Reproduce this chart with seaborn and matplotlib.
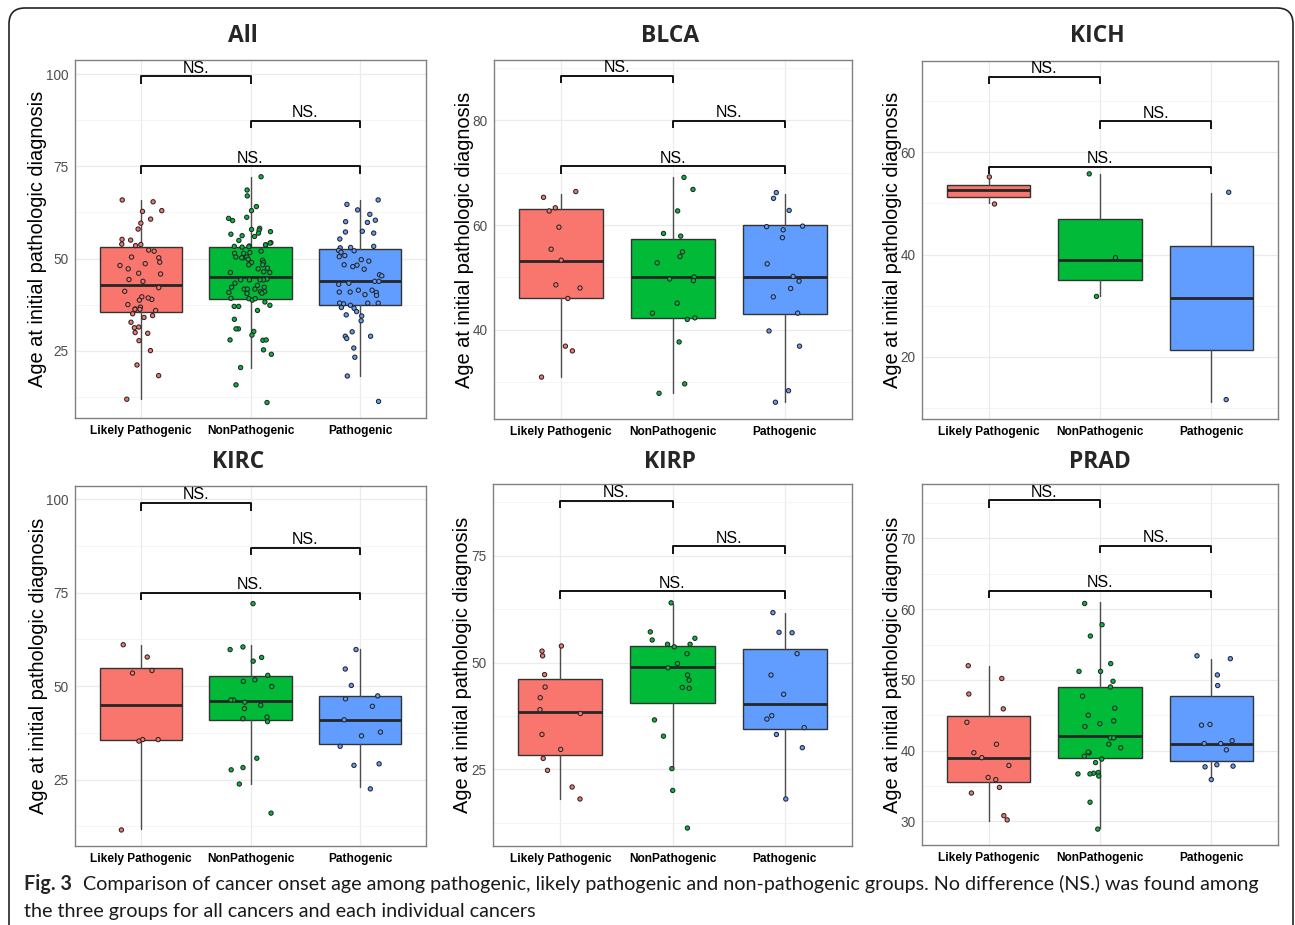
import numpy as np
import pandas as pd
import matplotlib
matplotlib.use("Agg")
import matplotlib.pyplot as plt
from matplotlib.patches import FancyBboxPatch
from matplotlib.transforms import IdentityTransform
from matplotlib.ticker import FixedLocator
import seaborn as sns

sns.set_style("white")
plt.rcParams['font.family'] = ['Liberation Sans', 'DejaVu Sans']

groups = ["Likely Pathogenic", "NonPathogenic", "Pathogenic"]
colors = ["#F8766D", "#00BA38", "#619CFF"]

# box stats per group: [lower whisker, q1, median, q3, upper whisker]
# points: jittered ages shown on top of boxes
all_box = [[11.9, 35.6, 42.9, 53.0, 65.9], [20.4, 39.0, 44.9, 53.0, 72.0], [18.0, 37.4, 44.0, 52.5, 65.9]]
all_lp = [65.9, 65.4, 58.0, 60.7, 63.0, 62.8, 59.6, 55.2, 55.0, 53.8, 52.3, 52.0, 53.5, 53.9, 50.4, 50.2,
          47.2, 46.0, 49.0, 48.1, 48.6, 45.8, 44.3, 43.8, 42.1, 41.1, 39.6, 38.9, 39.3, 38.7, 37.5, 36.8,
          36.3, 36.2, 36.2, 35.9, 34.5, 35.0, 34.0, 32.7, 31.4, 31.2, 29.7, 29.9, 27.7, 25.0, 21.1, 18.2, 11.8]
all_np = [72.2, 68.6, 67.0, 64.1, 63.0, 61.2, 60.9, 60.3, 58.2, 57.9, 57.7, 57.3, 56.9, 56.6, 56.2, 56.0,
          54.9, 54.3, 54.2, 53.7, 53.4, 53.7, 53.3, 53.1, 53.2, 52.0, 51.6, 51.4, 51.4, 50.2, 50.2, 50.4,
          50.4, 49.8, 49.5, 48.9, 48.9, 48.3, 48.3, 47.4, 47.2, 46.4, 46.2, 46.2, 44.4, 44.2, 44.2, 44.2,
          44.2, 43.3, 42.7, 42.2, 41.7, 42.2, 41.7, 41.7, 41.0, 41.0, 40.6, 40.8, 40.5, 39.1, 39.2, 38.7,
          39.1, 38.2, 37.3, 37.0, 37.0, 35.9, 33.5, 30.9, 30.2, 30.9, 27.8, 27.9, 27.9, 29.2, 25.2, 24.0,
          20.4, 15.7, 10.9]
all_p = [65.9, 64.7, 63.2, 62.0, 60.4, 60.0, 59.8, 56.9, 57.4, 57.2, 55.3, 53.0, 53.3, 52.9, 52.2, 52.1,
         51.7, 50.8, 50.5, 49.7, 49.3, 48.2, 48.3, 47.8, 47.1, 45.6, 45.3, 43.3, 43.0, 43.8, 43.8, 41.4,
         41.4, 40.8, 40.2, 40.0, 40.9, 40.9, 37.3, 37.7, 37.9, 37.9, 37.9, 36.7, 36.5, 35.6, 34.7, 33.1,
         34.4, 30.1, 28.9, 28.9, 28.3, 25.7, 23.2, 18.1, 11.2]

blca_box = [[31.1, 46.0, 53.1, 63.0, 65.9], [28.0, 42.3, 50.0, 57.3, 69.1], [26.2, 43.0, 50.0, 60.0, 65.9]]
blca_lp = [66.4, 65.3, 63.3, 62.7, 59.6, 55.4, 53.3, 48.0, 48.6, 46.0, 36.9, 36.0, 31.0]
blca_np = [69.1, 66.8, 62.7, 58.4, 57.9, 54.9, 54.0, 52.8, 50.1, 49.4, 49.7, 45.1, 43.2, 42.3, 42.0,
           37.7, 29.7, 27.9]
blca_p = [66.2, 65.1, 62.8, 59.7, 59.8, 59.1, 57.6, 52.6, 50.2, 49.3, 47.9, 46.3, 43.2, 39.8, 36.9,
          28.4, 26.2]

kich_box = [[50.0, 51.3, 52.6, 53.7, 54.9], [31.8, 35.0, 39.0, 47.0, 55.8], [11.1, 21.3, 31.5, 41.7, 52.0]]
kich_lp = [55.2, 49.9]
kich_np = [55.8, 39.4, 31.8]
kich_p = [52.2, 11.6]

kirc_box = [[11.7, 35.7, 44.9, 54.9, 61.0], [23.9, 40.9, 46.0, 52.7, 61.0], [22.9, 34.6, 40.9, 47.5, 59.9]]
kirc_lp = [61.1, 57.8, 53.5, 54.2, 35.7, 35.3, 35.7, 11.5]
kirc_np = [72.1, 60.5, 59.8, 57.7, 56.7, 52.9, 51.7, 51.3, 49.9, 46.3, 46.3, 44.9, 45.7, 44.0, 41.7,
           41.3, 40.5, 30.7, 28.2, 27.6, 23.8, 16.0]
kirc_p = [59.8, 54.6, 50.2, 47.4, 46.6, 44.6, 41.0, 37.7, 36.7, 33.9, 29.2, 28.8, 22.5]

kirp_box = [[18.0, 28.4, 38.4, 46.1, 53.9], [25.0, 40.5, 48.9, 53.9, 63.8], [18.0, 34.5, 40.4, 53.1, 61.7]]
kirp_lp = [53.9, 52.7, 51.6, 47.2, 44.3, 41.8, 39.0, 38.1, 33.2, 29.7, 27.6, 24.8, 20.9, 18.1]
kirp_np = [64.0, 57.2, 55.7, 55.3, 54.3, 53.7, 54.3, 52.1, 49.8, 48.8, 47.1, 45.9, 44.0, 44.2, 36.6,
           32.8, 25.2, 20.1, 11.3]
kirp_p = [61.7, 57.0, 57.1, 52.1, 47.1, 42.6, 36.8, 37.6, 34.8, 33.2, 30.1, 18.1]

prad_box = [[30.1, 35.5, 39.0, 44.9, 52.0], [29.0, 39.0, 42.0, 49.0, 61.0], [36.1, 38.5, 41.0, 47.7, 53.0]]
prad_lp = [52.0, 50.2, 48.0, 45.9, 44.0, 40.9, 39.7, 39.0, 37.9, 36.2, 35.9, 34.8, 34.0, 30.8, 30.2]
prad_np = [60.8, 57.8, 56.2, 52.3, 51.2, 51.2, 49.8, 49.0, 47.7, 46.0, 45.0, 44.2, 43.8, 43.4, 41.8,
           41.8, 40.9, 40.4, 39.7, 39.8, 39.2, 38.8, 38.3, 36.8, 36.9, 36.7, 36.7, 36.4, 32.7, 28.9]
prad_p = [53.0, 53.4, 50.7, 49.2, 43.6, 43.7, 41.4, 41.0, 41.0, 40.1, 37.7, 37.8, 38.0, 35.9]

W, H = 1295, 925
fig = plt.figure(figsize=(W / 100, H / 100), dpi=100)
np.random.seed(7)


def px_rect(l, t, r, b):
    return [l / W, 1 - b / H, (r - l) / W, (b - t) / H]


def draw_panel(rect, title, tpos, box, pts, ylim, yticks, brackets, ylab_off):
    ax = fig.add_axes(px_rect(*rect))
    df = pd.DataFrame({
        "group": sum([[g] * len(p) for g, p in zip(groups, pts)], []),
        "age": sum([list(p) for p in pts], []),
    })

    stats = [dict(whislo=b[0], q1=b[1], med=b[2], q3=b[3], whishi=b[4], fliers=[]) for b in box]
    bp = ax.bxp(stats, positions=[0, 1, 2], widths=0.75, patch_artist=True, showfliers=False,
                showcaps=False, manage_ticks=False,
                boxprops=dict(edgecolor="#333333", linewidth=1.0),
                whiskerprops=dict(color="#4d4d4d", linewidth=1.0),
                medianprops=dict(color="#262626", linewidth=2.0))
    for patch, c in zip(bp["boxes"], colors):
        patch.set_facecolor(c)
        patch.set_zorder(2)

    sns.stripplot(data=df, x="group", y="age", hue="group", order=groups, hue_order=groups,
                  palette=colors, jitter=0.2, size=3.1, linewidth=0.75, edgecolor="#262626",
                  legend=False, ax=ax, zorder=3)

    ax.set_xlim(-0.6, 2.6)
    ax.set_ylim(*ylim)
    ax.set_xlabel("")
    ax.set_yticks(yticks)
    step = yticks[1] - yticks[0]
    minors = np.arange(yticks[0] - step / 2, ylim[1], step)
    ax.yaxis.set_minor_locator(FixedLocator(minors))
    ax.tick_params(axis="y", which="minor", length=0)
    ax.grid(which="major", color="#EBEBEB", linewidth=0.9)
    ax.grid(which="minor", axis="y", color="#F3F3F3", linewidth=0.6)
    ax.set_axisbelow(True)
    for s in ax.spines.values():
        s.set_color("#808080")
        s.set_linewidth(1.0)
    ax.tick_params(axis="both", which="major", length=3, width=0.8, color="#333333", pad=1.5)
    ax.tick_params(axis="y", labelsize=9.8, labelcolor="#4D4D4D")
    ax.tick_params(axis="x", labelsize=8.6, labelcolor="black", pad=2)
    for lab in ax.get_xticklabels():
        lab.set_fontweight("bold")

    ax.set_ylabel("Age at initial pathologic diagnosis", fontsize=14.4, color="black", va="center")
    width_px = rect[2] - rect[0]
    ax.yaxis.set_label_coords(-ylab_off / width_px, 0.5)

    # significance brackets
    tip = 0.0205 * (ylim[1] - ylim[0])
    for (i, j), y in zip([(0, 1), (1, 2), (0, 2)], brackets):
        ax.plot([i, i, j, j], [y - tip, y, y, y - tip], color="black", linewidth=1.3,
                clip_on=False, zorder=4, solid_capstyle="butt")
        ax.annotate("NS.", xy=((i + j) / 2, y), xytext=(0, 0.5), textcoords="offset points",
                    ha="center", va="bottom", fontsize=11.5, color="black", annotation_clip=False)

    fig.text(tpos[0] / W, 1 - tpos[1] / H, title, ha="center", va="center", fontsize=16.5,
             fontweight="bold", family=["Open Sans", "DejaVu Sans"])
    return ax


draw_panel((75, 60, 426, 418), "All", (243, 36), all_box, [all_lp, all_np, all_p],
           (6.7, 103.9), [25, 50, 75, 100], [99.5, 87.3, 75.0], 37.5)
draw_panel((494, 60, 852, 419), "BLCA", (670, 36), blca_box, [blca_lp, blca_np, blca_p],
           (23.0, 91.5), [40, 60, 80], [88.5, 79.9, 71.2], 29.8)
draw_panel((922, 61, 1278, 419), "KICH", (1097, 36), kich_box, [kich_lp, kich_np, kich_p],
           (7.8, 77.9), [20, 40, 60], [74.8, 66.1, 57.2], 29.5)
draw_panel((75, 486, 426, 846), "KIRC", (238, 462), kirc_box, [kirc_lp, kirc_np, kirc_p],
           (7.2, 103.6), [25, 50, 75, 100], [99.0, 87.0, 75.0], 36.8)
draw_panel((493, 484, 852, 846), "KIRP", (670, 462), kirp_box, [kirp_lp, kirp_np, kirp_p],
           (7.1, 91.8), [25, 50, 75], [87.9, 77.2, 66.7], 30.2)
draw_panel((922, 484, 1278, 845), "PRAD", (1100, 462), prad_box, [prad_lp, prad_np, prad_p],
           (26.65, 77.7), [30, 40, 50, 60, 70], [75.4, 69.0, 62.6], 29.5)

# rounded frame around the figure (open at the bottom)
frame = FancyBboxPatch((9, -40), 1284, H - 8 + 40, boxstyle="round,pad=0,rounding_size=16",
                       transform=IdentityTransform(), facecolor="none", edgecolor="#222222",
                       linewidth=1.2)
fig.add_artist(frame)

cap_font = ["Lato", "DejaVu Sans"]
fig.text(24 / W, 1 - 884 / H, "Fig. 3", ha="left", va="center", fontsize=14.2, fontweight="bold",
         family=cap_font)
fig.text(83 / W, 1 - 884 / H,
         "Comparison of cancer onset age among pathogenic, likely pathogenic and non-pathogenic groups. "
         "No difference (NS.) was found among",
         ha="left", va="center", fontsize=14.2, family=cap_font, color="#1a1a1a")
fig.text(24 / W, 1 - 912 / H, "the three groups for all cancers and each individual cancers",
         ha="left", va="center", fontsize=14.2, family=cap_font, color="#1a1a1a")

fig.savefig("out.png", dpi=100)
